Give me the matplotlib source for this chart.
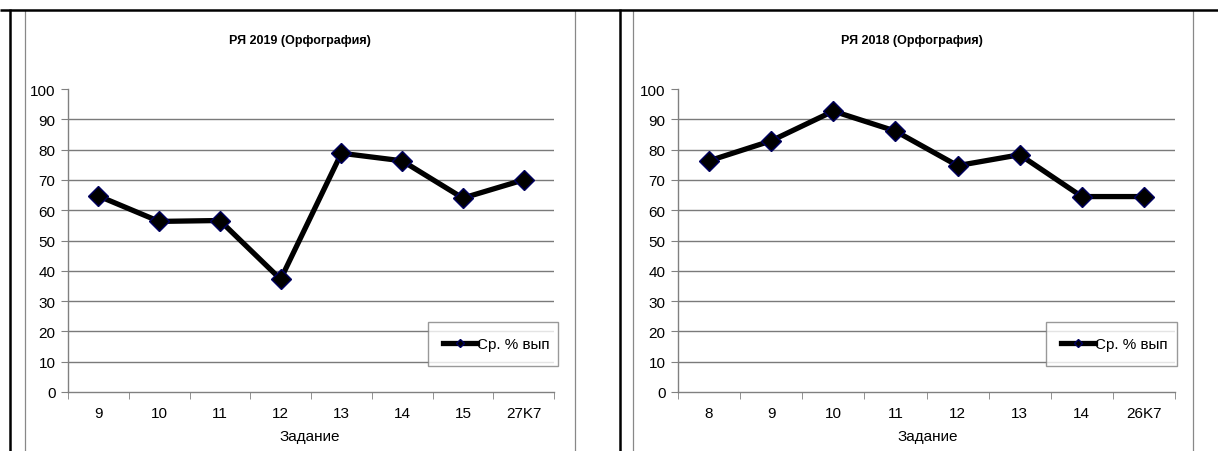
import matplotlib
matplotlib.use("Agg")
import matplotlib.pyplot as plt
from matplotlib.lines import Line2D

plt.rcParams['font.family'] = ['Liberation Sans', 'DejaVu Sans']

# ---- data ----
cats_2019 = ["9", "10", "11", "12", "13", "14", "15", "27K7"]
vals_2019 = [64.7, 56.3, 56.6, 37.2, 78.8, 76.3, 64.0, 70.0]
cats_2018 = ["8", "9", "10", "11", "12", "13", "14", "26K7"]
vals_2018 = [76.3, 82.9, 92.7, 86.1, 74.7, 78.3, 64.5, 64.5]
title_2019 = "РЯ 2019 (Орфография)"
title_2018 = "РЯ 2018 (Орфография)"
xlabel = "Задание"
series_name = "Ср. % вып"
yticks = list(range(0, 101, 10))

W, H = 1218, 452
fig = plt.figure(figsize=(W / 100, H / 100), dpi=100)
fig.patch.set_facecolor("white")

FS = 11

def px(x0, y0, x1, y1):
    # pixel box (top-left origin) -> figure fraction rect
    return [x0 / W, (H - y1) / H, (x1 - x0) / W, (y1 - y0) / H]

def draw_chart(rect, cats, vals, title, title_x, xlabel_x, legend_box):
    ax = fig.add_axes(rect)
    x = list(range(len(cats)))
    ax.set_xlim(-0.5, len(cats) - 0.5)
    ax.set_ylim(0, 100)
    for v in yticks[1:-1]:
        ax.axhline(v, color="#7a7a7a", lw=1.0, zorder=1)
    ax.plot(x, vals, color="black", lw=3.8, marker="D", markersize=10,
            markerfacecolor="black", markeredgecolor="#000060",
            markeredgewidth=1.0, zorder=3, label=series_name)
    for s in ["top", "right"]:
        ax.spines[s].set_visible(False)
    for s in ["left", "bottom"]:
        ax.spines[s].set_color("#808080")
        ax.spines[s].set_linewidth(1.0)
    ax.set_yticks(yticks)
    ax.set_yticklabels([str(v) for v in yticks], fontsize=FS)
    ax.set_xticks(x)
    ax.set_xticklabels(cats, fontsize=FS)
    ax.set_xticks([i + 0.5 for i in range(-1, len(cats))], minor=True)
    ax.tick_params(axis="x", which="major", length=0, pad=10)
    ax.tick_params(axis="x", which="minor", length=5, color="#808080", direction="out")
    ax.tick_params(axis="y", length=5, color="#808080", direction="out", pad=4)
    ax.set_facecolor("white")
    fig.text(title_x / W, 1 - 41 / H, title, ha="center", va="center",
             fontsize=9, fontweight="bold")
    fig.text(xlabel_x / W, 1 - 437 / H, xlabel, ha="center", va="center",
             fontsize=FS)
    lx0, ly0, lx1, ly1 = legend_box
    leg = ax.legend(loc="center", bbox_to_anchor=px(lx0, ly0, lx1, ly1),
                    bbox_transform=fig.transFigure, mode="expand",
                    frameon=True, fancybox=False, fontsize=FS,
                    handlelength=2.2, handletextpad=0.0, borderpad=1.0,
                    borderaxespad=0.0, markerscale=0.45)
    leg.get_frame().set_edgecolor("#808080")
    leg.get_frame().set_linewidth(1.0)
    return ax

draw_chart(px(68, 90, 554, 393), cats_2019, vals_2019, title_2019, 300, 310,
           (428, 315, 558, 375))
draw_chart(px(678, 90, 1175, 393), cats_2018, vals_2018, title_2018, 912, 928,
           (1046, 315, 1177, 375))

def fline(x0, y0, x1, y1, color, lw):
    fig.add_artist(Line2D([x0 / W, x1 / W], [1 - y0 / H, 1 - y1 / H],
                          transform=fig.transFigure, color=color, lw=lw,
                          solid_capstyle="butt"))

# chart frames (thin grey)
fline(25, 11, 25, H, "#888888", 0.9)
fline(575, 11, 575, H, "#888888", 0.9)
fline(633, 11, 633, H, "#888888", 0.9)
fline(1193, 11, 1193, H, "#888888", 0.9)
# table borders (black)
fline(0, 10.5, W, 10.5, "black", 1.8)
fline(10, 10, 10, H, "black", 1.8)
fline(620, 10, 620, H, "black", 1.8)

fig.savefig("out.png", dpi=100, facecolor="white")
